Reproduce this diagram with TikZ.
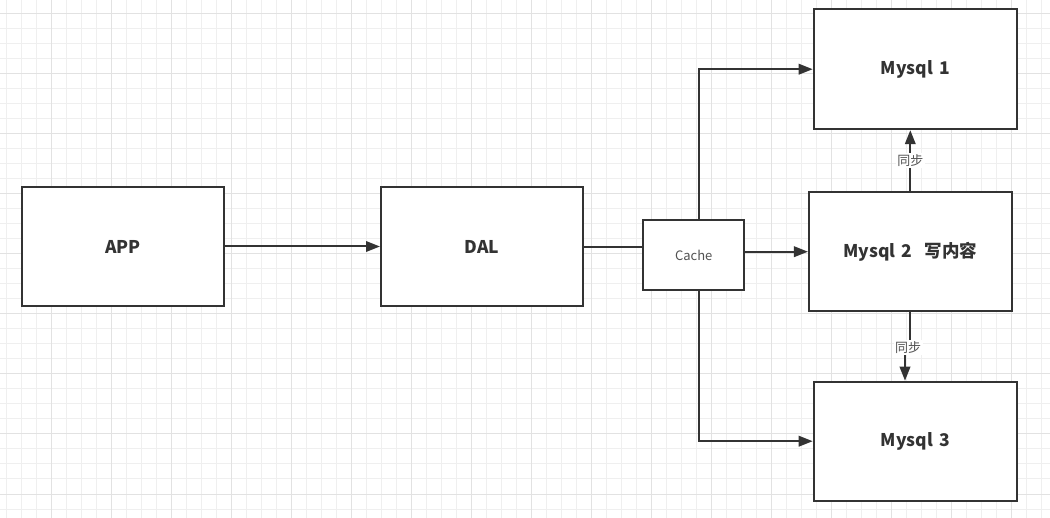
\documentclass[tikz,border=0pt]{standalone}
\usepackage{fontspec}
\setmainfont{Noto Sans CJK SC}
\usetikzlibrary{arrows.meta,calc}
\definecolor{ink}{HTML}{333333}
\definecolor{gridminor}{HTML}{EFEFEF}
\definecolor{gridmajor}{HTML}{E2E2E2}
\tikzset{
  box/.style={draw=ink, line width=2pt, fill=white, rectangle, inner sep=0pt, text=ink},
  bigbox/.style={box, minimum width=202pt, minimum height=119pt, font=\fontsize{17.5}{20}\selectfont\bfseries},
  cachebox/.style={box, minimum width=100.7pt, minimum height=70pt, font=\fontsize{13}{15}\selectfont, text=ink!85},
  conn/.style={draw=ink, line width=2pt},
  arr/.style={conn, -{Triangle[length=14pt,width=10.5pt]}},
  lbl/.style={fill=white, inner sep=1.5pt, text=ink!85, font=\fontsize{13}{14}\selectfont}
}
\newcommand{\dn}[1]{\raisebox{-2pt}{#1}}
\begin{document}
\begin{tikzpicture}[x=1pt,y=-1pt]
\useasboundingbox (0,0) rectangle (1050,518);
\fill[white] (0,0) rectangle (1050,518);
% grid
\foreach \k in {0,...,70} {
  \draw[gridminor, line width=1pt] ({6.7+15*\k},0) -- ({6.7+15*\k},518);
}
\foreach \k in {0,...,35} {
  \draw[gridminor, line width=1pt] (0,{-1+15*\k}) -- (1050,{-1+15*\k});
}
\foreach \k in {0,...,17} {
  \draw[gridmajor, line width=1pt] ({51.7+60*\k},0) -- ({51.7+60*\k},518);
}
\foreach \k in {0,...,8} {
  \draw[gridmajor, line width=1pt] (0,{14+60*\k}) -- (1050,{14+60*\k});
}
% nodes
\node[bigbox] (app) at (123,246.5) {\dn{APP}};
\node[bigbox] (dal) at (482,246.5) {\dn{DAL}};
\node[cachebox] (cache) at (693.7,255) {\dn{Cache}};
\node[bigbox, minimum width=203pt, minimum height=120pt] (m1) at (915.2,69.2) {\dn{Mysql\hspace{0.35em}1}};
\node[bigbox, minimum width=202.7pt, minimum height=118.7pt] (m2) at (910.3,251.7) {\dn{Mysql\hspace{0.35em}2\hspace{0.7em}写内容}};
\node[bigbox, minimum width=203pt, minimum height=119pt] (m3) at (915.2,441.2) {\dn{Mysql\hspace{0.35em}3}};
\coordinate (bx) at (699,0);
\coordinate (jog) at (905,347.5);
% connectors
\draw[arr] (app) -- (dal);
\draw[conn] (dal.east |- 0,247.3) -- (cache.west |- 0,247.3);
\draw[arr] (cache.east |- m2.west) -- (m2.west);
\draw[arr] (cache.north -| bx) |- (m1.west);
\draw[arr] (cache.south -| bx) |- (m3.west);
\draw[arr] (m2.north) -- (m2.north |- m1.south) node[lbl, pos=0.5] {同步};
\draw[arr] (m2.south) -- (m2.south |- jog) -- (jog) -- (jog |- m3.north);
\node[lbl] (l2) at (908,347.5) {同步};
\end{tikzpicture}
\end{document}
